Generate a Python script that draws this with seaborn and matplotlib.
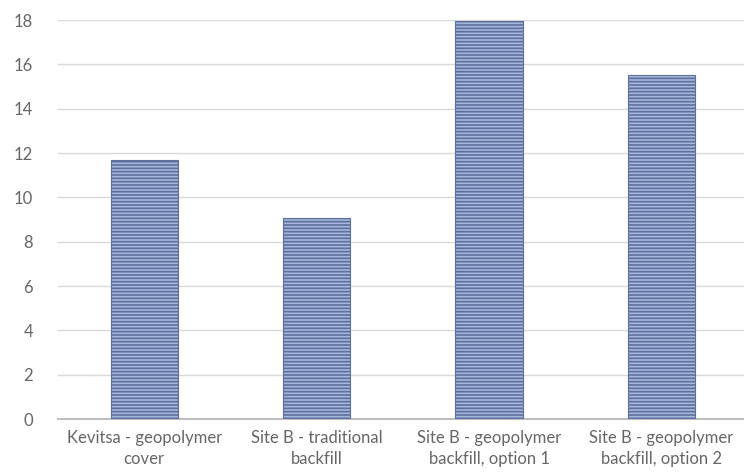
import seaborn as sns
import pandas as pd
import matplotlib.pyplot as plt

sns.set_style("white")
plt.rcParams["font.family"] = ["Lato", "DejaVu Sans"]
plt.rcParams["hatch.color"] = "#34519a"
plt.rcParams["hatch.linewidth"] = 1.2

categories = [
    "Kevitsa - geopolymer\ncover",
    "Site B - traditional\nbackfill",
    "Site B - geopolymer\nbackfill, option 1",
    "Site B - geopolymer\nbackfill, option 2",
]
values = [11.7, 9.05, 17.95, 15.5]
yticks = [0, 2, 4, 6, 8, 10, 12, 14, 16, 18]

df = pd.DataFrame({"category": categories, "value": values})

fig = plt.figure(figsize=(7.44, 4.73), dpi=100)
ax = fig.add_axes([58 / 744, 54 / 473, 688 / 744, 399 / 473])

sns.barplot(data=df, x="category", y="value", color="#9db4e4", width=0.39,
            edgecolor="#5d6f9c", linewidth=0.8, hatch="-----", ax=ax, zorder=3)

ax.set_ylim(0, 18)
ax.set_xlim(-0.5, 3.49)
ax.set_yticks(yticks)
ax.yaxis.grid(True, color="#d9d9d9", linewidth=1.0, zorder=0)
ax.set(xlabel="", ylabel="")
for side in ["top", "right", "left"]:
    ax.spines[side].set_visible(False)
ax.spines["bottom"].set_color("#bfbfbf")
ax.spines["bottom"].set_linewidth(1.5)
ax.tick_params(axis="both", length=0, colors="#666666", labelsize=12)
ax.tick_params(axis="x", pad=8)
ax.tick_params(axis="y", pad=18)
for lbl in ax.get_xticklabels():
    lbl.set_linespacing(1.4)

fig.savefig("out.png", dpi=100)
